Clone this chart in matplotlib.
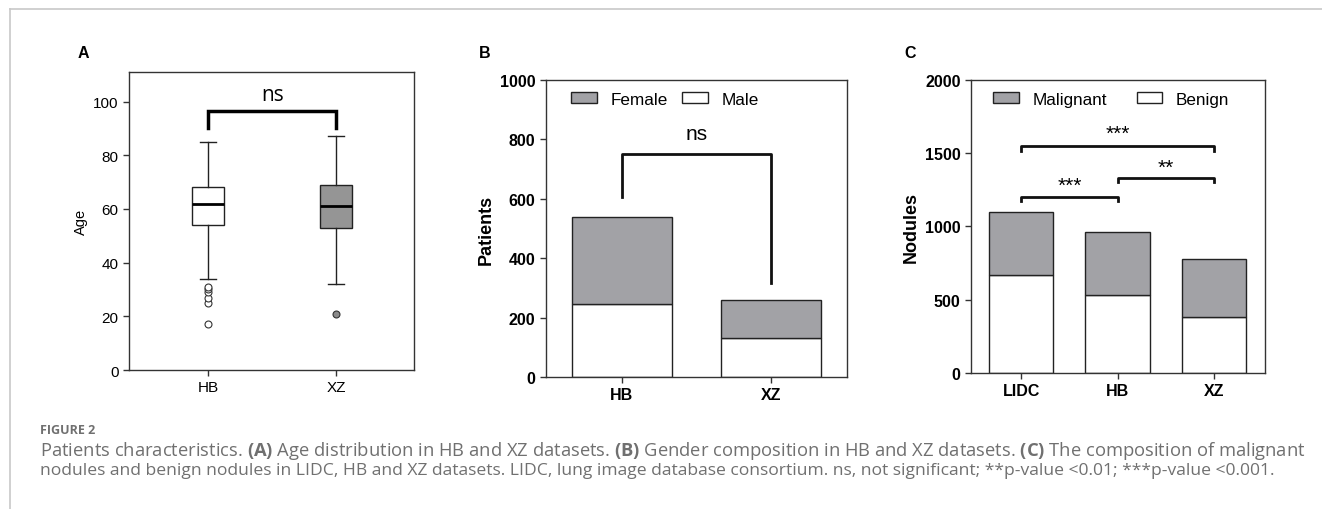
"""Patients characteristics: age, gender and nodule composition."""

import matplotlib.pyplot as plt
import matplotlib as mpl
from matplotlib.lines import Line2D
from matplotlib.patches import Patch

mpl.rcParams['font.family'] = ['Liberation Sans', 'DejaVu Sans']
mpl.rcParams['mathtext.fontset'] = 'custom'
mpl.rcParams['mathtext.rm'] = 'Open Sans'
mpl.rcParams['mathtext.bf'] = 'Open Sans:bold'

# Panel A - age distribution (box summaries)
age_groups = ['HB', 'XZ']
age_q1 = [54, 53]
age_median = [62, 61]
age_q3 = [68, 69]
age_whislo = [34, 32]
age_whishi = [85, 87]
age_outliers = [[17, 25, 27, 29, 30, 31], [21]]

# Panel B - gender composition
gender_groups = ['HB', 'XZ']
male = [247, 130]
female = [293, 130]

# Panel C - nodule composition
nodule_groups = ['LIDC', 'HB', 'XZ']
benign = [670, 535, 385]
malignant = [430, 425, 395]

GREY = '#a2a2a6'
EDGE = '#222222'

fig = plt.figure(figsize=(13.22, 5.10), dpi=100)

# outer frame lines of the figure page
fig.add_artist(Line2D([10 / 1322, 1], [1 - 10 / 510, 1 - 10 / 510],
                      transform=fig.transFigure, color='#c8c8c8', lw=1.2))
fig.add_artist(Line2D([10 / 1322, 10 / 1322], [0, 1 - 10 / 510],
                      transform=fig.transFigure, color='#c8c8c8', lw=1.2))


def style_frame(ax):
    for loc in ['bottom', 'top', 'left', 'right']:
        ax.spines[loc].set_linewidth(1.0)
        ax.spines[loc].set_color('#333333')
    ax.tick_params(direction='out', length=4, width=1.0, color='#333333')
    ax.tick_params(top=False, right=False)


def patch_legend(ax, labels, colors, x, y, colsp):
    handles = [Patch(facecolor=c, edgecolor=EDGE, lw=1, label=l)
               for l, c in zip(labels, colors)]
    ax.legend(handles=handles, loc='center left', ncol=2, frameon=False,
              fontsize=12.3, handlelength=1.5, handleheight=0.6,
              handletextpad=0.8, columnspacing=colsp, borderpad=0,
              borderaxespad=0, bbox_to_anchor=(x, y))


# ---- A ----
ax = fig.add_axes([0.0976, 0.2725, 0.2156, 0.5843])
stats = []
for i in range(len(age_groups)):
    stats.append({'label': age_groups[i], 'q1': age_q1[i], 'med': age_median[i],
                  'q3': age_q3[i], 'whislo': age_whislo[i],
                  'whishi': age_whishi[i], 'fliers': age_outliers[i]})
bp = ax.bxp(stats, positions=[1, 2], widths=0.25, patch_artist=True,
            medianprops=dict(color='black', lw=2),
            whiskerprops=dict(color='#222222', lw=1),
            capprops=dict(color='#222222', lw=1),
            boxprops=dict(lw=1, edgecolor='#222222'))
bp['boxes'][0].set_facecolor('white')
bp['boxes'][1].set_facecolor('#959595')
bp['fliers'][0].set(marker='o', markerfacecolor='white', markeredgecolor='#333333',
                    markersize=5, markeredgewidth=0.8)
bp['fliers'][1].set(marker='o', markerfacecolor='#8a8a8a', markeredgecolor='#333333',
                    markersize=5, markeredgewidth=0.8)
ax.set_xlim(0.38, 2.61)
ax.set_ylim(0, 111)
ax.set_yticks([0, 20, 40, 60, 80, 100])
ax.set_ylabel('Age', fontsize=10.5)
ax.tick_params(labelsize=11)
style_frame(ax)
ax.plot([1, 1, 2, 2], [90.3, 96.4, 96.4, 90.3], color='black', lw=2.5,
        solid_joinstyle='miter')
ax.text(1.5, 102.5, 'ns', ha='center', va='center', fontsize=15,
        family=['Open Sans', 'DejaVu Sans'])
fig.text(83 / 1322, 1 - 53 / 510, 'A', fontsize=11.5, fontweight='bold',
         ha='center', va='center')

# ---- B ----
ax = fig.add_axes([0.4130, 0.2588, 0.2277, 0.5824])
x = range(len(gender_groups))
ax.bar(x, male, width=0.67, color='white', edgecolor=EDGE, lw=1)
ax.bar(x, female, bottom=male, width=0.67, color=GREY, edgecolor=EDGE, lw=1)
ax.set_xlim(-0.51, 1.51)
ax.set_ylim(0, 1000)
ax.set_yticks([0, 200, 400, 600, 800, 1000])
ax.set_xticks(list(x))
ax.set_xticklabels(gender_groups)
ax.set_ylabel('Patients', fontsize=13, fontweight='bold')
ax.tick_params(labelsize=11.5)
for t in ax.get_xticklabels() + ax.get_yticklabels():
    t.set_fontweight('bold')
style_frame(ax)
ax.plot([0, 0, 1, 1], [605, 750, 750, 315], color='#111111', lw=2)
ax.text(0.5, 820, 'ns', ha='center', va='center', fontsize=15)
patch_legend(ax, ['Female', 'Male'], [GREY, 'white'], 0.083, 0.935, 0.85)
fig.text(485 / 1322, 1 - 53 / 510, 'B', fontsize=11.5, fontweight='bold',
         ha='center', va='center')

# ---- C ----
ax = fig.add_axes([0.7345, 0.2667, 0.2224, 0.5745])
x = range(len(nodule_groups))
ax.bar(x, benign, width=0.67, color='white', edgecolor=EDGE, lw=1)
ax.bar(x, malignant, bottom=benign, width=0.67, color=GREY, edgecolor=EDGE, lw=1)
ax.set_xlim(-0.52, 2.53)
ax.set_ylim(0, 2000)
ax.set_yticks([0, 500, 1000, 1500, 2000])
ax.set_xticks(list(x))
ax.set_xticklabels(nodule_groups)
ax.set_ylabel('Nodules', fontsize=13, fontweight='bold')
ax.tick_params(labelsize=11.5)
for t in ax.get_xticklabels() + ax.get_yticklabels():
    t.set_fontweight('bold')
style_frame(ax)
brackets = [(0, 1, 1203, '***', 1280), (1, 2, 1331, '**', 1405),
            (0, 2, 1548, '***', 1635)]
for x0, x1, yb, lab, yt in brackets:
    ax.plot([x0, x0, x1, x1], [yb - 30, yb, yb, yb - 30], color='#111111', lw=2)
    ax.text((x0 + x1) / 2, yt, lab, ha='center', va='center', fontsize=15)
patch_legend(ax, ['Malignant', 'Benign'], [GREY, 'white'], 0.075, 0.935, 1.75)
fig.text(910 / 1322, 1 - 53 / 510, 'C', fontsize=11.5, fontweight='bold',
         ha='center', va='center')

# ---- caption ----
cap_font = ['Open Sans', 'DejaVu Sans']
cap_col = '#707070'
fig.text(40 / 1322, 1 - 431 / 510, 'FIGURE 2', fontsize=9, color=cap_col,
         fontweight='bold', va='center', family=cap_font)
line1 = ('Patients characteristics. $\\mathbf{(A)}$ Age distribution in HB and XZ '
         'datasets. $\\mathbf{(B)}$ Gender composition in HB and XZ datasets. '
         '$\\mathbf{(C)}$ The composition of malignant')
line2 = ('nodules and benign nodules in LIDC, HB and XZ datasets. LIDC, lung image '
         'database consortium. ns, not significant; **p-value <0.01; ***p-value <0.001.')
fig.text(40 / 1322, 1 - 451 / 510, line1, fontsize=13.2, color=cap_col,
         va='center', family=cap_font)
fig.text(40 / 1322, 1 - 471 / 510, line2, fontsize=12.6, color=cap_col,
         va='center', family=cap_font)

fig.savefig('out.png', dpi=100, facecolor='white')
